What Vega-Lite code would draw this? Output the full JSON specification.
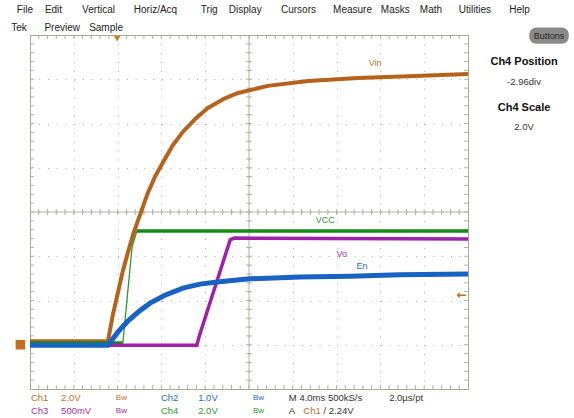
{
  "$schema": "https://vega.github.io/schema/vega-lite/v6.json",
  "width": 438,
  "height": 354,
  "autosize": {"type": "none"},
  "padding": {"left": 30, "top": 35, "right": 106, "bottom": 29},
  "background": "#ffffff",
  "config": {
    "view": {"stroke": "#a8a890", "strokeWidth": 1},
    "axis": {"domain": false, "ticks": false, "labels": false, "grid": true, "gridColor": "#a8a8a8", "gridWidth": 1},
    "axisX": {"gridDash": [1, 7.85], "tickCount": 10},
    "axisY": {"gridDash": [1, 7.76], "tickCount": 8},
    "text": {"font": "Liberation Sans"}
  },
  "datasets": {
    "tx": [{"v":0.2},{"v":0.4},{"v":0.6},{"v":0.8},{"v":1},{"v":1.2},{"v":1.4},{"v":1.6},{"v":1.8},{"v":2},{"v":2.2},{"v":2.4},{"v":2.6},{"v":2.8},{"v":3},{"v":3.2},{"v":3.4},{"v":3.6},{"v":3.8},{"v":4},{"v":4.2},{"v":4.4},{"v":4.6},{"v":4.8},{"v":5},{"v":5.2},{"v":5.4},{"v":5.6},{"v":5.8},{"v":6},{"v":6.2},{"v":6.4},{"v":6.6},{"v":6.8},{"v":7},{"v":7.2},{"v":7.4},{"v":7.6},{"v":7.8},{"v":8},{"v":8.2},{"v":8.4},{"v":8.6},{"v":8.8},{"v":9},{"v":9.2},{"v":9.4},{"v":9.6},{"v":9.8}],
    "ty": [{"v":-3.8},{"v":-3.6},{"v":-3.4},{"v":-3.2},{"v":-3},{"v":-2.8},{"v":-2.6},{"v":-2.4},{"v":-2.2},{"v":-2},{"v":-1.8},{"v":-1.6},{"v":-1.4},{"v":-1.2},{"v":-1},{"v":-0.8},{"v":-0.6},{"v":-0.4},{"v":-0.2},{"v":0},{"v":0.2},{"v":0.4},{"v":0.6},{"v":0.8},{"v":1},{"v":1.2},{"v":1.4},{"v":1.6},{"v":1.8},{"v":2},{"v":2.2},{"v":2.4},{"v":2.6},{"v":2.8},{"v":3},{"v":3.2},{"v":3.4},{"v":3.6},{"v":3.8}],
    "vin": [{"x":0,"y":-2.92},{"x":1.78,"y":-2.92},{"x":1.89,"y":-2.33},{"x":2.01,"y":-1.81},{"x":2.12,"y":-1.33},{"x":2.24,"y":-0.9},{"x":2.35,"y":-0.52},{"x":2.47,"y":-0.18},{"x":2.69,"y":0.43},{"x":2.85,"y":0.79},{"x":3.04,"y":1.13},{"x":3.26,"y":1.51},{"x":3.49,"y":1.81},{"x":3.77,"y":2.1},{"x":4.06,"y":2.35},{"x":4.41,"y":2.55},{"x":4.75,"y":2.69},{"x":5.43,"y":2.85},{"x":6.35,"y":2.96},{"x":7.49,"y":3.03},{"x":8.63,"y":3.07},{"x":10,"y":3.12}],
    "vcc": [{"s":"a","x":0,"y":-2.96},{"s":"a","x":2.12,"y":-2.96},{"s":"c","x":2.44,"y":-0.43},{"s":"c","x":10,"y":-0.43}],
    "vccrise": [{"x":2.12,"y":-2.96},{"x":2.33,"y":-0.79},{"x":2.44,"y":-0.43}],
    "vo": [{"x":0,"y":-3.01},{"x":3.81,"y":-3.01},{"x":3.86,"y":-2.82},{"x":4.57,"y":-0.63},{"x":4.66,"y":-0.59},{"x":10,"y":-0.61}],
    "en": [{"x":0,"y":-3.01},{"x":1.78,"y":-3.01},{"x":2.01,"y":-2.71},{"x":2.24,"y":-2.46},{"x":2.47,"y":-2.26},{"x":2.74,"y":-2.06},{"x":3.08,"y":-1.88},{"x":3.49,"y":-1.72},{"x":3.88,"y":-1.63},{"x":4.27,"y":-1.58},{"x":5.02,"y":-1.51},{"x":6.16,"y":-1.47},{"x":7.31,"y":-1.45},{"x":8.45,"y":-1.42},{"x":10,"y":-1.4}],
    "labels": [{"t":"Vin","x":7.88,"y":3.37,"k":"o"},{"t":"VCC","x":6.74,"y":-0.18,"k":"g"},{"t":"Vo","x":7.12,"y":-0.95,"k":"p"},{"t":"En","x":7.58,"y":-1.22,"k":"b"}],
    "menu": [{"t":"File","x":-0.3,"y":4.56},{"t":"Edit","x":0.34,"y":4.56},{"t":"Vertical","x":1.19,"y":4.56},{"t":"Horiz/Acq","x":2.37,"y":4.56},{"t":"Trig","x":3.9,"y":4.56},{"t":"Display","x":4.54,"y":4.56},{"t":"Cursors","x":5.73,"y":4.56},{"t":"Measure","x":6.92,"y":4.56},{"t":"Masks","x":8.01,"y":4.56},{"t":"Math","x":8.9,"y":4.56},{"t":"Utilities","x":9.79,"y":4.56},{"t":"Help","x":10.94,"y":4.56},{"t":"Tek","x":-0.43,"y":4.16},{"t":"Preview","x":0.33,"y":4.16},{"t":"Sample","x":1.35,"y":4.16}],
    "bottom": [{"t":"Ch1","x":0.02,"y":-4.2,"k":"o"},{"t":"2.0V","x":0.71,"y":-4.2,"k":"o"},{"t":"Ch2","x":2.99,"y":-4.2,"k":"b"},{"t":"1.0V","x":3.84,"y":-4.2,"k":"b"},{"t":"M 4.0ms 500kS/s","x":5.91,"y":-4.2,"k":"d"},{"t":"2.0µs/pt","x":8.2,"y":-4.2,"k":"d"},{"t":"Ch3","x":0.02,"y":-4.49,"k":"p"},{"t":"500mV","x":0.71,"y":-4.49,"k":"p"},{"t":"Ch4","x":2.99,"y":-4.49,"k":"g"},{"t":"2.0V","x":3.84,"y":-4.49,"k":"g"},{"t":"A","x":5.91,"y":-4.49,"k":"d"},{"t":"Ch1","x":6.24,"y":-4.49,"k":"o"},{"t":"/  2.24V","x":6.7,"y":-4.49,"k":"d"}],
    "bw": [{"t":"Bw","x":1.96,"y":-4.2,"k":"o"},{"t":"Bw","x":5.09,"y":-4.2,"k":"b"},{"t":"Bw","x":1.96,"y":-4.49,"k":"p"},{"t":"Bw","x":5.09,"y":-4.49,"k":"g"}],
    "rbold": [{"t":"Ch4 Position","x":11.28,"y":3.39},{"t":"Ch4 Scale","x":11.28,"y":2.35}],
    "rval": [{"t":"-2.96div","x":11.28,"y":2.94},{"t":"2.0V","x":11.28,"y":1.92}]
  },
  "layer": [
    {
      "data": {"values": [{}]},
      "mark": {"type": "rule", "color": "#b4b4a8", "strokeWidth": 1},
      "encoding": {
        "y": {"datum": 0, "type": "quantitative", "title": null, "axis": {"title": null}, "scale": {"domain": [-4, 4], "nice": false, "zero": false}},
        "x": {"datum": 5, "type": "quantitative", "title": null, "axis": {"title": null}, "scale": {"domain": [0, 10], "nice": false, "zero": false}}
      }
    },
    {
      "data": {"values": [{}]},
      "mark": {"type": "rule", "color": "#b4b4a8", "strokeWidth": 1},
      "encoding": {"y": {"datum": 0, "type": "quantitative"}}
    },
    {
      "data": {"values": [{}]},
      "mark": {"type": "rule", "color": "#b4b4a8", "strokeWidth": 1},
      "encoding": {"x": {"datum": 5, "type": "quantitative"}}
    },
    {
      "data": {"name": "tx"},
      "mark": {"type": "tick", "orient": "vertical", "size": 6, "thickness": 1, "color": "#b0b0a4", "opacity": 1},
      "encoding": {"x": {"field": "v", "type": "quantitative", "title": null}, "y": {"datum": 0, "type": "quantitative"}}
    },
    {
      "data": {"name": "ty"},
      "mark": {"type": "tick", "orient": "horizontal", "size": 6, "thickness": 1, "color": "#b0b0a4", "opacity": 1},
      "encoding": {"y": {"field": "v", "type": "quantitative", "title": null}, "x": {"datum": 5, "type": "quantitative"}}
    },
    {
      "data": {"name": "tx"},
      "mark": {"type": "tick", "orient": "vertical", "size": 8, "thickness": 1, "color": "#b0b0a4", "opacity": 1, "clip": true},
      "encoding": {"x": {"field": "v", "type": "quantitative", "title": null}, "y": {"datum": 4, "type": "quantitative"}}
    },
    {
      "data": {"name": "tx"},
      "mark": {"type": "tick", "orient": "vertical", "size": 8, "thickness": 1, "color": "#b0b0a4", "opacity": 1, "clip": true},
      "encoding": {"x": {"field": "v", "type": "quantitative", "title": null}, "y": {"datum": -4, "type": "quantitative"}}
    },
    {
      "data": {"name": "ty"},
      "mark": {"type": "tick", "orient": "horizontal", "size": 8, "thickness": 1, "color": "#b0b0a4", "opacity": 1, "clip": true},
      "encoding": {"y": {"field": "v", "type": "quantitative", "title": null}, "x": {"datum": 0, "type": "quantitative"}}
    },
    {
      "data": {"name": "ty"},
      "mark": {"type": "tick", "orient": "horizontal", "size": 8, "thickness": 1, "color": "#b0b0a4", "opacity": 1, "clip": true},
      "encoding": {"y": {"field": "v", "type": "quantitative", "title": null}, "x": {"datum": 10, "type": "quantitative"}}
    },
    {
      "data": {"name": "vin"},
      "mark": {"type": "line", "color": "#b5621c", "strokeWidth": 4, "strokeJoin": "round"},
      "encoding": {"x": {"field": "x", "type": "quantitative", "title": null}, "y": {"field": "y", "type": "quantitative", "title": null}}
    },
    {
      "data": {"name": "vccrise"},
      "mark": {"type": "line", "color": "#2a9a2a", "strokeWidth": 1.3},
      "encoding": {"x": {"field": "x", "type": "quantitative", "title": null}, "y": {"field": "y", "type": "quantitative", "title": null}}
    },
    {
      "data": {"name": "vcc"},
      "mark": {"type": "line", "color": "#168a16", "strokeWidth": 3.5},
      "encoding": {"x": {"field": "x", "type": "quantitative", "title": null}, "y": {"field": "y", "type": "quantitative", "title": null}, "detail": {"field": "s"}}
    },
    {
      "data": {"name": "vo"},
      "mark": {"type": "line", "color": "#a020aa", "strokeWidth": 3.5},
      "encoding": {"x": {"field": "x", "type": "quantitative", "title": null}, "y": {"field": "y", "type": "quantitative", "title": null}}
    },
    {
      "data": {"name": "en"},
      "mark": {"type": "line", "color": "#1862c4", "strokeWidth": 5},
      "encoding": {"x": {"field": "x", "type": "quantitative", "title": null}, "y": {"field": "y", "type": "quantitative", "title": null}}
    },
    {
      "data": {"name": "labels"},
      "mark": {"type": "text", "fontSize": 9, "align": "center", "baseline": "middle"},
      "encoding": {
        "x": {"field": "x", "type": "quantitative", "title": null}, "y": {"field": "y", "type": "quantitative", "title": null}, "text": {"field": "t"},
        "color": {"field": "k", "type": "nominal", "legend": null, "scale": {"domain": ["m", "o", "b", "p", "g", "d"], "range": ["#222222", "#b8731f", "#2a6bb5", "#a032a8", "#2f9a2f", "#333333"]}}
      }
    },
    {
      "data": {"values": [{}]},
      "mark": {"type": "point", "shape": "triangle-down", "filled": true, "size": 45, "color": "#d0801c", "opacity": 1},
      "encoding": {"x": {"datum": 1.99, "type": "quantitative"}, "y": {"datum": 3.92, "type": "quantitative"}}
    },
    {
      "data": {"values": [{}]},
      "mark": {"type": "text", "text": "←", "font": "DejaVu Sans", "fontSize": 12, "fontWeight": "bold", "color": "#b8731f", "align": "center", "baseline": "middle"},
      "encoding": {"x": {"datum": 9.86, "type": "quantitative"}, "y": {"datum": -1.88, "type": "quantitative"}}
    },
    {
      "data": {"values": [{}]},
      "mark": {"type": "point", "shape": "square", "filled": true, "size": 90, "color": "#c0701c", "opacity": 1},
      "encoding": {"x": {"datum": -0.22, "type": "quantitative"}, "y": {"datum": -3.0, "type": "quantitative"}}
    },
    {
      "data": {"name": "menu"},
      "mark": {"type": "text", "fontSize": 10, "align": "left", "baseline": "middle", "color": "#222222"},
      "encoding": {"x": {"field": "x", "type": "quantitative", "title": null}, "y": {"field": "y", "type": "quantitative", "title": null}, "text": {"field": "t"}}
    },
    {
      "data": {"name": "bottom"},
      "mark": {"type": "text", "fontSize": 9.5, "align": "left", "baseline": "middle"},
      "encoding": {
        "x": {"field": "x", "type": "quantitative", "title": null}, "y": {"field": "y", "type": "quantitative", "title": null}, "text": {"field": "t"},
        "color": {"field": "k", "type": "nominal", "legend": null, "scale": {"domain": ["m", "o", "b", "p", "g", "d"], "range": ["#222222", "#b8731f", "#2a6bb5", "#a032a8", "#2f9a2f", "#333333"]}}
      }
    },
    {
      "data": {"name": "bw"},
      "mark": {"type": "text", "fontSize": 8, "align": "left", "baseline": "middle"},
      "encoding": {
        "x": {"field": "x", "type": "quantitative", "title": null}, "y": {"field": "y", "type": "quantitative", "title": null}, "text": {"field": "t"},
        "color": {"field": "k", "type": "nominal", "legend": null, "scale": {"domain": ["m", "o", "b", "p", "g", "d"], "range": ["#222222", "#b8731f", "#2a6bb5", "#a032a8", "#2f9a2f", "#333333"]}}
      }
    },
    {
      "data": {"name": "rbold"},
      "mark": {"type": "text", "fontSize": 11, "fontWeight": "bold", "align": "center", "baseline": "middle", "color": "#111111"},
      "encoding": {"x": {"field": "x", "type": "quantitative", "title": null}, "y": {"field": "y", "type": "quantitative", "title": null}, "text": {"field": "t"}}
    },
    {
      "data": {"name": "rval"},
      "mark": {"type": "text", "fontSize": 9.5, "align": "center", "baseline": "middle", "color": "#333333"},
      "encoding": {"x": {"field": "x", "type": "quantitative", "title": null}, "y": {"field": "y", "type": "quantitative", "title": null}, "text": {"field": "t"}}
    },
    {
      "data": {"values": [{}]},
      "mark": {"type": "rect", "color": "#8a8a8a", "cornerRadius": 7, "opacity": 1},
      "encoding": {"x": {"datum": 11.4, "type": "quantitative"}, "x2": {"datum": 12.3}, "y": {"datum": 4.17, "type": "quantitative"}, "y2": {"datum": 3.8}}
    },
    {
      "data": {"values": [{}]},
      "mark": {"type": "text", "text": "Buttons", "fontSize": 9, "align": "center", "baseline": "middle", "color": "#222222"},
      "encoding": {"x": {"datum": 11.85, "type": "quantitative"}, "y": {"datum": 3.985, "type": "quantitative"}}
    }
  ]
}
